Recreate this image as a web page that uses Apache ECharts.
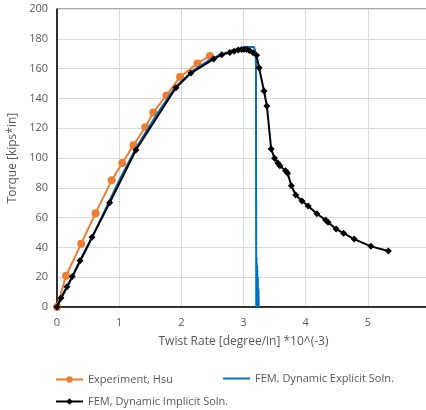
<!DOCTYPE html>
<html>
<head>
<meta charset="utf-8">
<script src="https://cdn.jsdelivr.net/npm/echarts@6/dist/echarts.min.js"></script>
<style>
  html, body { margin: 0; padding: 0; background: #fff; }
  #chart { width: 426px; height: 410px; }
</style>
</head>
<body>
<div id="chart"></div>
<script>
// Experiment, Hsu
const expX = [0, 0.145, 0.39, 0.62, 0.88, 1.05, 1.23, 1.42, 1.55, 1.76, 1.98, 2.26, 2.46];
const expY = [0, 21, 42.5, 63, 85, 96.6, 108.5, 120.6, 130.6, 142, 154.4, 163.5, 168.5];

// FEM, Dynamic Explicit Soln. (drops to zero with ringing near 3.2)
const explicitX = [0, 0.5, 1.0, 1.27, 1.6, 1.9, 2.2, 2.5, 2.8, 3.05, 3.17, 3.2, 3.205, 3.21, 3.215, 3.22, 3.225, 3.23, 3.235, 3.24, 3.245];
const explicitY = [0, 41, 85, 106.5, 129, 147.5, 159, 167, 172, 174.5, 174.5, 170, 0, 33, 1, 28, 0, 20, 0, 12, 0];

// FEM, Dynamic Implicit Soln.
const implicitX = [0, 0.064, 0.16, 0.246, 0.37, 0.563, 0.847, 1.27, 1.913, 2.154, 2.52, 2.65, 2.78, 2.85, 2.915, 2.97, 3.01, 3.05, 3.1, 3.156, 3.21, 3.25, 3.33, 3.376, 3.445, 3.5, 3.553, 3.585, 3.677, 3.71, 3.77, 3.84, 3.94, 4.04, 4.18, 4.32, 4.36, 4.49, 4.61, 4.78, 5.05, 5.33];
const implicitY = [0, 6, 13.6, 20.4, 31.1, 46.8, 70, 105.4, 147.2, 157, 166.4, 169.3, 170.8, 171.6, 172.5, 172.9, 173, 172.8, 172, 170.7, 168.9, 160.6, 145, 134.9, 106, 99.8, 96.6, 94.8, 91.5, 89.7, 81.4, 75.2, 71.1, 67.8, 62.6, 58.4, 56.8, 52.3, 49.5, 45.6, 40.7, 37.6];

const zip = (xs, ys) => xs.map((x, i) => [x, ys[i]]);

const FONT = 'Open Sans';
const GREY = '#595959';

const chart = echarts.init(document.getElementById('chart'));
const legendText = { color: GREY, fontSize: 11, fontFamily: FONT };
chart.setOption({
    animation: false,
    textStyle: { fontFamily: FONT },
    grid: {
        left: 57, top: 9, width: 373, height: 298,
        outerBoundsMode: 'none', containLabel: false,
        show: true, borderColor: GREY, borderWidth: 1,
    },
    legend: [
        { left: 55, top: 374, padding: 0, itemWidth: 27, itemHeight: 8, textStyle: legendText, data: ['Experiment, Hsu'] },
        { left: 223, top: 373, padding: 0, itemWidth: 27, itemHeight: 2, textStyle: legendText, data: [{ name: 'FEM, Dynamic Explicit Soln.', icon: 'rect' }] },
        { left: 55, top: 396, padding: 0, itemWidth: 27, itemHeight: 8, textStyle: legendText, data: ['FEM, Dynamic Implicit Soln.'] },
    ],
    xAxis: {
        type: 'value', min: 0, max: 6, interval: 1,
        name: 'Twist Rate [degree/in] *10^(-3)', nameLocation: 'middle', nameGap: 29,
        nameTextStyle: { color: GREY, fontSize: 12, fontFamily: FONT },
        axisLine: { lineStyle: { color: '#000', width: 1.5 } },
        axisTick: { show: false },
        axisLabel: { color: GREY, fontSize: 11, margin: 10, fontFamily: FONT, showMaxLabel: false },
        splitLine: { lineStyle: { color: '#d9d9d9', width: 1 } },
    },
    yAxis: {
        type: 'value', min: 0, max: 200, interval: 20,
        name: 'Torque [kips*in]', nameLocation: 'middle', nameGap: 38,
        nameTextStyle: { color: GREY, fontSize: 12, fontFamily: FONT },
        axisLine: { show: true, lineStyle: { color: '#000', width: 1.5 } },
        axisTick: { show: false },
        axisLabel: { color: GREY, fontSize: 11, margin: 9, fontFamily: FONT },
        splitLine: { lineStyle: { color: '#d9d9d9', width: 1 } },
    },
    series: [
        {
            name: 'Experiment, Hsu', type: 'line', data: zip(expX, expY),
            symbol: 'circle', symbolSize: 8,
            lineStyle: { color: '#ED7D31', width: 2 }, itemStyle: { color: '#ED7D31' },
            z: 2,
        },
        {
            name: 'FEM, Dynamic Explicit Soln.', type: 'line', data: zip(explicitX, explicitY),
            symbol: 'none', showSymbol: false,
            lineStyle: { color: '#0070C0', width: 2 }, itemStyle: { color: '#0070C0' },
            z: 3,
        },
        {
            name: 'FEM, Dynamic Implicit Soln.', type: 'line', data: zip(implicitX, implicitY),
            symbol: 'diamond', symbolSize: 7,
            lineStyle: { color: '#000', width: 2 }, itemStyle: { color: '#000' },
            z: 4,
        },
    ],
});
</script>
</body>
</html>
